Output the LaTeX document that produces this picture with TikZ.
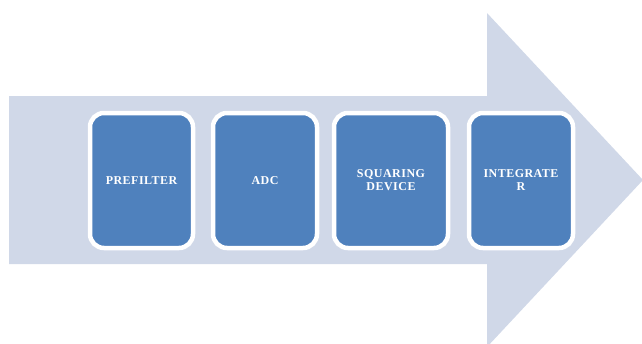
\documentclass[tikz,border=0pt]{standalone}
\usepackage{fontspec}
\setmainfont{Liberation Serif}
\usetikzlibrary{positioning}
\definecolor{arrowgrey}{HTML}{D0D8E8}
\definecolor{stageblue}{HTML}{4F81BD}
\tikzset{
	stage/.style={draw=white, line width=4.5pt, fill=stageblue, rounded corners=14pt,
		minimum width=104pt, minimum height=135pt, inner sep=2pt, outer sep=0pt, align=center,
		text=white, font=\bfseries\fontsize{12}{13}\selectfont\addfontfeature{LetterSpace=4}}
}

\begin{document}
\begin{tikzpicture}[x=1pt, y=-1pt]
			%%%%% START %%%%%
			
			\useasboundingbox (0, 0) rectangle (642, 343);
			
			\fill[arrowgrey] (9, 96) -- (487, 96) -- (487, 13) -- (643, 180)
				-- (487, 347) -- (487, 264) -- (9, 264) -- cycle;
			
			\node[stage, minimum width=103pt] (prefilter) at (141.5, 180.5) {PREFILTER};
			\node[stage, right=20pt of prefilter] (adc) {ADC};
			\node[stage, minimum width=114pt, right=17pt of adc] (squaring) {SQUARING\\DEVICE};
			\node[stage, right=21pt of squaring] (integrator) {INTEGRATE\\R};
			
			%%%%% END %%%%%
\end{tikzpicture}
\end{document}
